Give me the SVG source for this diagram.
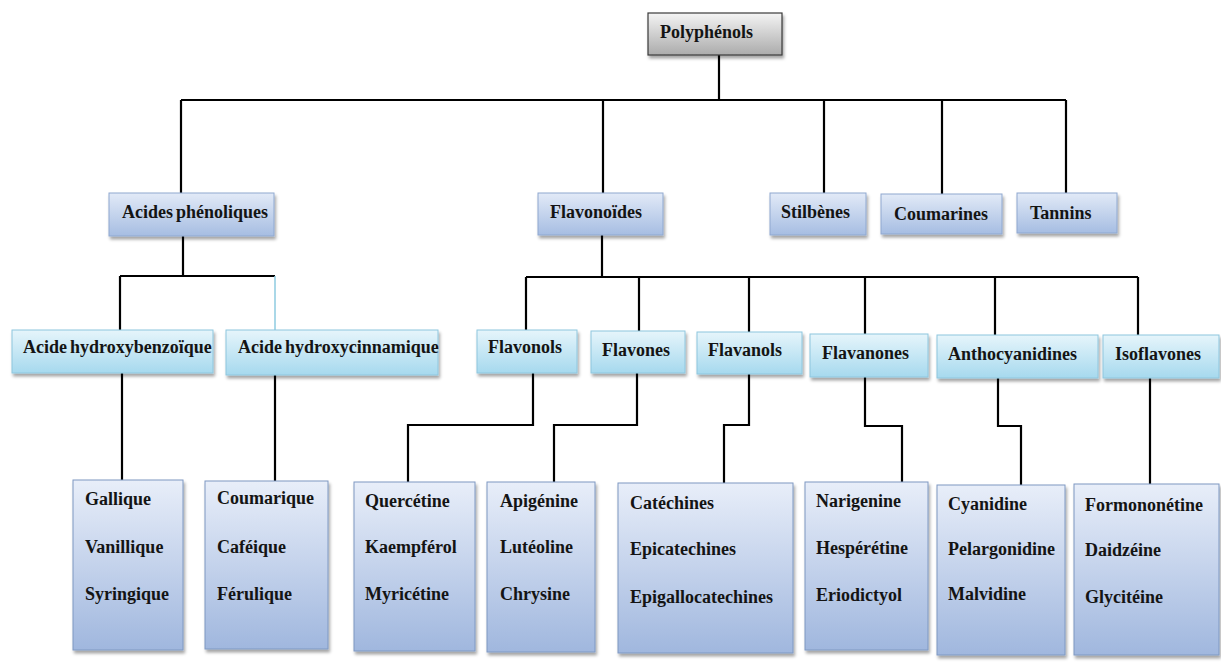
<svg xmlns="http://www.w3.org/2000/svg" width="1221" height="662" viewBox="0 0 1221 662">
<defs>
<linearGradient id="gGray" x1="0" y1="0" x2="0" y2="1"><stop offset="0" stop-color="#f4f4f4"/><stop offset="1" stop-color="#ababab"/></linearGradient>
<linearGradient id="gBlue" x1="0" y1="0" x2="0" y2="1"><stop offset="0" stop-color="#e2eaf7"/><stop offset="1" stop-color="#a6bde2"/></linearGradient>
<linearGradient id="gCyan" x1="0" y1="0" x2="0" y2="1"><stop offset="0" stop-color="#e6f5fb"/><stop offset="1" stop-color="#a6d9ee"/></linearGradient>
<linearGradient id="gLeaf" x1="0" y1="0" x2="0" y2="1"><stop offset="0" stop-color="#e8eef9"/><stop offset="1" stop-color="#a0b7de"/></linearGradient>
<filter id="sh" x="-10%" y="-10%" width="130%" height="140%"><feDropShadow dx="1.5" dy="3" stdDeviation="1.8" flood-color="#000" flood-opacity="0.35"/></filter>
</defs>
<style>
text{font-family:"Liberation Serif","Times New Roman",serif;font-weight:bold;font-size:18px;fill:#141414;word-spacing:-1.5px}
.root{fill:url(#gGray);stroke:#3a3a3a;stroke-width:1.2;filter:url(#sh)}
.l1{fill:url(#gBlue);stroke:#8fa8d0;stroke-width:1;filter:url(#sh)}
.l2{fill:url(#gCyan);stroke:#8ec6de;stroke-width:1;filter:url(#sh)}
.leaf{fill:url(#gLeaf);stroke:#7f98c2;stroke-width:1;filter:url(#sh)}
.c{fill:none;stroke:#000;stroke-width:2.2}
.cb{fill:none;stroke:#8ecbe0;stroke-width:1.5}
</style>
<rect width="1221" height="662" fill="#fff"/>
<g id="connectors">
<path class="c" d="M719 55V100M181 100H1066M181 100V193M603 100V193M824 100V193M942 100V194M1066 100V193"/>
<path class="c" d="M183 236V276M120 276H275M120 276V330"/>
<path class="cb" d="M275 276V330"/>
<path class="c" d="M602 235V277M526 277H1138M526 277V330M639 277V331M749 277V332M865 277V334M995 277V335M1138 277V335"/>
<path class="c" d="M122 373V480M275 375V481"/>
<path class="c" d="M533 373V425H408V482M637 373V425H554V482M749 374V425H724V483M865 377V426H902V492M998 378V426H1021V485M1150 378V484"/>
</g>
<g id="polyphenols"><rect class="root" x="648" y="13" width="134" height="42"/><text x="660" y="38">Polyphénols</text></g>
<g id="acides-phenoliques"><rect class="l1" x="109" y="193" width="165" height="43"/><text x="122" y="218">Acides phénoliques</text></g>
<g id="flavonoides"><rect class="l1" x="538" y="193" width="125" height="42"/><text x="550" y="218">Flavonoïdes</text></g>
<g id="stilbenes"><rect class="l1" x="770" y="193" width="96" height="42"/><text x="781" y="218">Stilbènes</text></g>
<g id="coumarines"><rect class="l1" x="881" y="194" width="121" height="40"/><text x="894" y="220">Coumarines</text></g>
<g id="tannins"><rect class="l1" x="1017" y="193" width="100" height="40"/><text x="1030" y="219">Tannins</text></g>
<g id="acide-hydroxybenzoique"><rect class="l2" x="12" y="330" width="201" height="43"/><text x="23" y="353">Acide hydroxybenzoïque</text></g>
<g id="acide-hydroxycinnamique"><rect class="l2" x="226" y="330" width="212" height="45"/><text x="238" y="353">Acide hydroxycinnamique</text></g>
<g id="flavonols"><rect class="l2" x="477" y="330" width="100" height="43"/><text x="488" y="353">Flavonols</text></g>
<g id="flavones"><rect class="l2" x="591" y="331" width="94" height="42"/><text x="602" y="356">Flavones</text></g>
<g id="flavanols"><rect class="l2" x="697" y="332" width="105" height="42"/><text x="708" y="356">Flavanols</text></g>
<g id="flavanones"><rect class="l2" x="810" y="334" width="118" height="43"/><text x="822" y="359">Flavanones</text></g>
<g id="anthocyanidines"><rect class="l2" x="937" y="335" width="161" height="43"/><text x="948" y="360">Anthocyanidines</text></g>
<g id="isoflavones"><rect class="l2" x="1103" y="335" width="116" height="43"/><text x="1115" y="360">Isoflavones</text></g>
<g id="leaf-benzoique"><rect class="leaf" x="73" y="480" width="110" height="170"/><text x="85" y="505">Gallique</text><text x="85" y="553">Vanillique</text><text x="85" y="600">Syringique</text></g>
<g id="leaf-cinnamique"><rect class="leaf" x="205" y="481" width="123" height="168"/><text x="217" y="504">Coumarique</text><text x="217" y="553">Caféique</text><text x="217" y="600">Férulique</text></g>
<g id="leaf-flavonols"><rect class="leaf" x="354" y="482" width="121" height="169"/><text x="365" y="507">Quercétine</text><text x="365" y="553">Kaempférol</text><text x="365" y="600">Myricétine</text></g>
<g id="leaf-flavones"><rect class="leaf" x="487" y="482" width="108" height="170"/><text x="500" y="507">Apigénine</text><text x="500" y="553">Lutéoline</text><text x="500" y="600">Chrysine</text></g>
<g id="leaf-flavanols"><rect class="leaf" x="618" y="483" width="175" height="170"/><text x="630" y="509">Catéchines</text><text x="630" y="555">Epicatechines</text><text x="630" y="603">Epigallocatechines</text></g>
<g id="leaf-flavanones"><rect class="leaf" x="805" y="482" width="123" height="168"/><text x="816" y="507">Narigenine</text><text x="816" y="554">Hespérétine</text><text x="816" y="601">Eriodictyol</text></g>
<g id="leaf-anthocyanidines"><rect class="leaf" x="937" y="485" width="128" height="170"/><text x="948" y="510">Cyanidine</text><text x="948" y="555">Pelargonidine</text><text x="948" y="600">Malvidine</text></g>
<g id="leaf-isoflavones"><rect class="leaf" x="1074" y="484" width="145" height="171"/><text x="1085" y="511">Formononétine</text><text x="1085" y="556">Daidzéine</text><text x="1085" y="603">Glycitéine</text></g>
</svg>
